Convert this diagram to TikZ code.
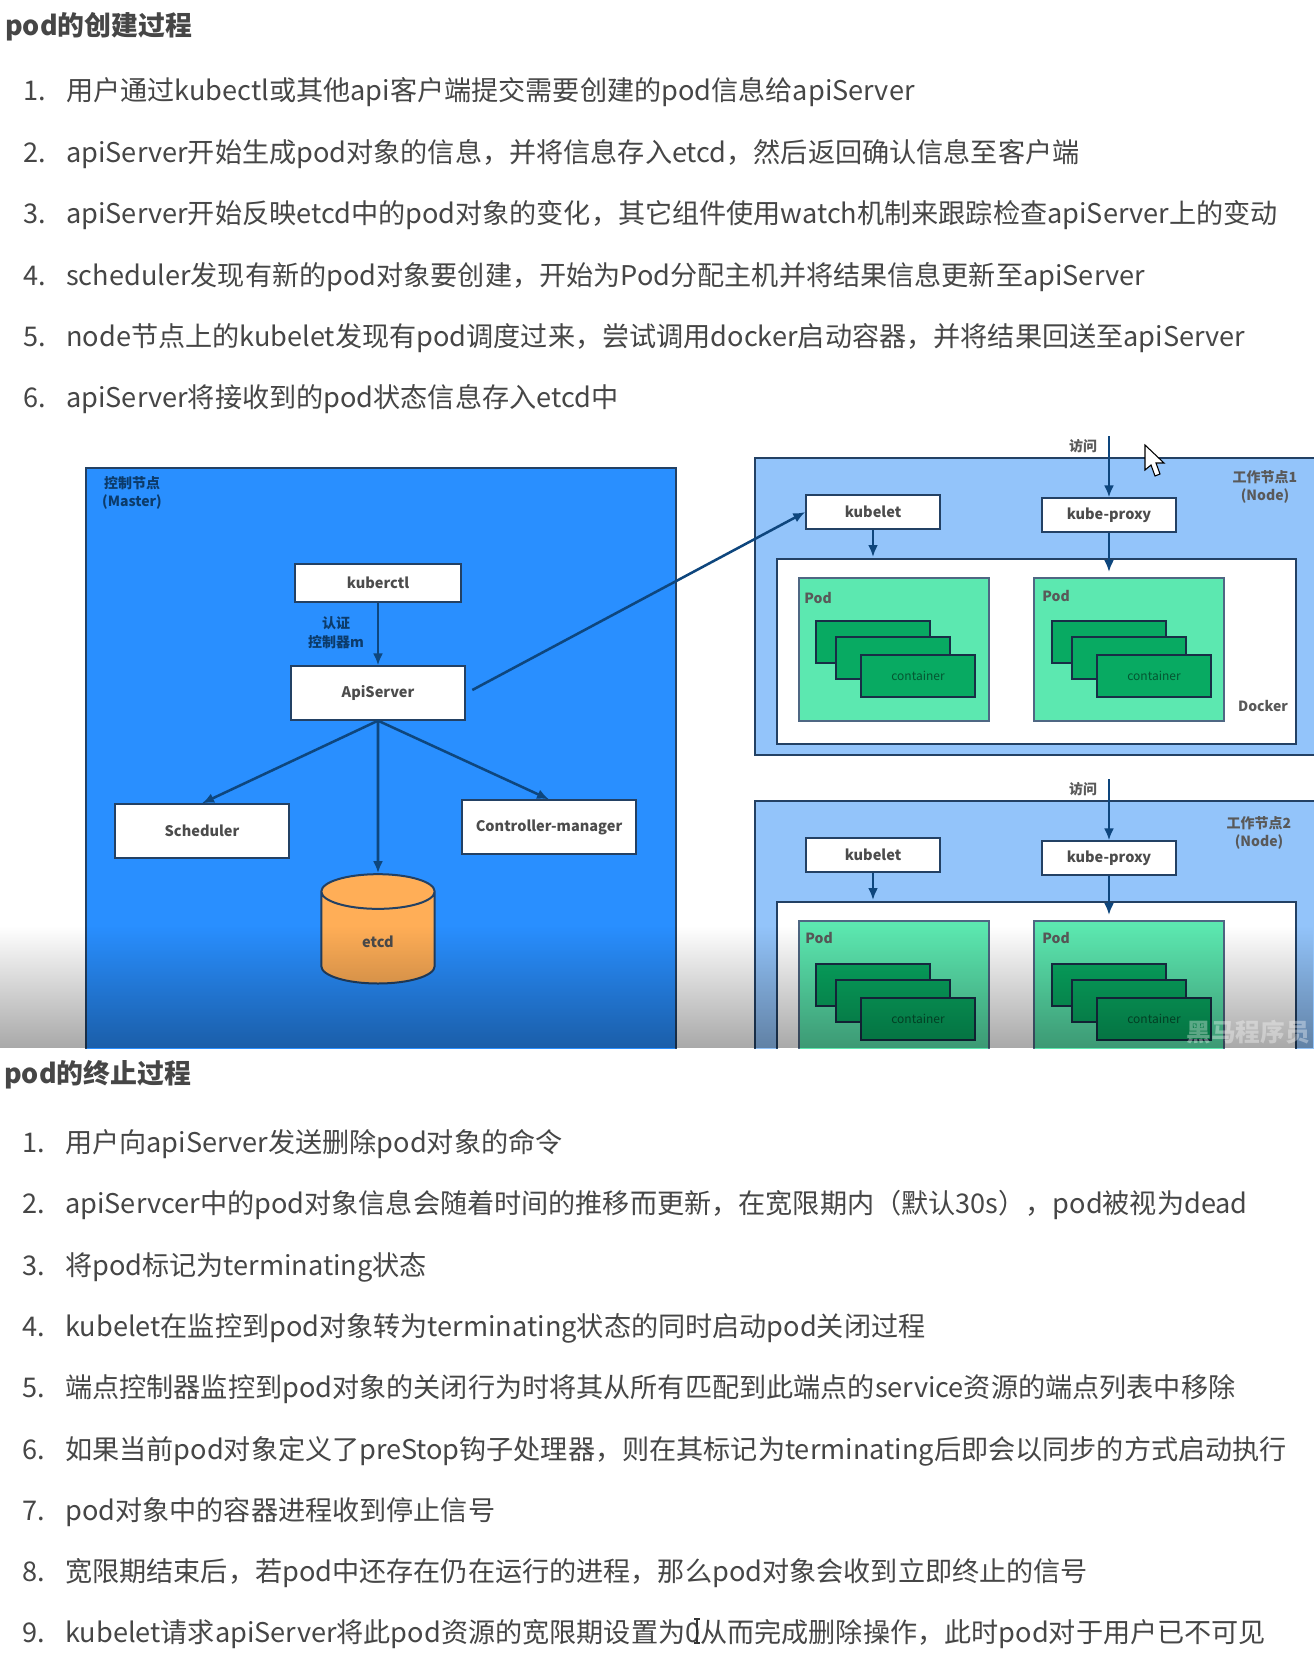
\documentclass[tikz,border=0pt]{standalone}
\usepackage{fontspec}
\usepackage{xcolor}
\usepackage{tikz}
\usetikzlibrary{positioning,shapes.geometric,fadings,arrows.meta}
\setmainfont{Noto Sans CJK SC}
\definecolor{myblue}{RGB}{41,143,255}
\definecolor{mylight}{RGB}{147,196,250}
\definecolor{mypod}{RGB}{92,232,176}
\definecolor{mycont}{RGB}{8,170,98}
\definecolor{myorange}{RGB}{255,174,87}
\definecolor{myline}{RGB}{35,65,100}
\definecolor{myarrow}{RGB}{14,70,125}
\definecolor{mytext}{RGB}{70,70,70}
\newcommand{\numbered}[1]{\makebox[32.25pt][l]{#1.}}
\tikzfading[name=videoshade, top color=transparent!100, bottom color=transparent!66]
\tikzset{
  heading/.style={anchor=west, inner sep=0pt, text=mytext, font=\fontsize{20.15}{24}\selectfont\bfseries},
  item/.style={anchor=west, inner sep=0pt, text=mytext, font=\fontsize{20.35}{24}\selectfont},
  whitebox/.style={draw=myline, fill=white, line width=1.5pt, inner sep=0pt, font=\fontsize{10.9}{13}\selectfont\bfseries, text=black!70},
  tag/.style={inner sep=0pt, align=center, text=black!65, font=\fontsize{10.5}{14}\selectfont\bfseries},
  darktag/.style={tag, text=myarrow!85!black},
  podbox/.style={draw=myline!80, fill=mypod, line width=1.5pt, inner sep=0pt, minimum width=143pt, minimum height=107pt},
  contbox/.style={draw=myline!70!black, fill=mycont, line width=1.5pt, inner sep=0pt, minimum width=86pt, minimum height=31pt, font=\fontsize{9}{11}\selectfont, text=black!50!mycont},
  kubebox/.style={whitebox, minimum width=100pt, minimum height=25pt},
  link/.style={draw=myarrow, line width=1.9pt, -{Latex[length=9pt,width=7.5pt]}}
}
\begin{document}
\begin{tikzpicture}[x=0.75pt, y=-0.75pt]
    \useasboundingbox (0,0) rectangle (1314,1661);
    \fill[white] (0,0) rectangle (1314,1661);

    \node[heading] (Head1) at (5,27) {pod的创建过程};
    \node[item] (A1) at (23,92) {\numbered{1}用户通过kubectl或其他api客户端提交需要创建的pod信息给apiServer};
    \node[item] (A2) at (23,154) {\numbered{2}apiServer开始生成pod对象的信息，并将信息存入etcd，然后返回确认信息至客户端};
    \node[item] (A3) at (23,215) {\numbered{3}apiServer开始反映etcd中的pod对象的变化，其它组件使用watch机制来跟踪检查apiServer上的变动};
    \node[item] (A4) at (23,277) {\numbered{4}scheduler发现有新的pod对象要创建，开始为Pod分配主机并将结果信息更新至apiServer};
    \node[item] (A5) at (23,338) {\numbered{5}node节点上的kubelet发现有pod调度过来，尝试调用docker启动容器，并将结果回送至apiServer};
    \node[item] (A6) at (23,399) {\numbered{6}apiServer将接收到的pod状态信息存入etcd中};

    \begin{scope}
    \clip (0,0) rectangle (1314,1048);
    % master
    \draw[myline, fill=myblue, line width=1.6pt] (86,468) rectangle (676,1070);
    \node[darktag] (MasterTag) at (132,493) {控制节点\\(Master)};
    \node[whitebox, minimum width=124pt, minimum height=28pt] (Kuberctl) at (378,583) {kuberctl};
    \node[whitebox, minimum width=131pt, minimum height=40pt] (ApiServer) at (378,693) {ApiServer};
    \node[whitebox, minimum width=131pt, minimum height=40pt] (Scheduler) at (202,831) {Scheduler};
    \node[whitebox, minimum width=131pt, minimum height=40pt] (Controller) at (549,827) {Controller-manager};
    \node[cylinder, shape border rotate=90, aspect=1.1, draw=myline, fill=myorange, line width=1.5pt,
      cylinder uses custom fill, cylinder body fill=myorange, cylinder end fill=myorange,
      minimum width=85pt, minimum height=82pt, inner sep=0pt, font=\fontsize{10.9}{13}\selectfont\bfseries, text=black!70] (Etcd) at (378,938) {\raisebox{-14pt}{etcd}};
    \node[darktag] (AuthTag) at (336,633) {认证\\控制器m};

    % worker 1
    \draw[myline, fill=mylight, line width=1.6pt] (755,458) rectangle (1330,755);
    \draw[myline, fill=white, line width=1.6pt] (777,559) rectangle (1296,744);
    \node[tag] (NodeTagA) at (1265,487) {工作节点1\\(Node)};
    \node[kubebox] (KubeletA) at (873,512) {kubelet};
    \node[kubebox] (ProxyA) at (1109,515) {kube-proxy};
    \node[podbox] (PodA) at (894,649.5) {};
    \node[podbox] (PodB) at (1129,649.5) {};
    \node[tag] (PodTagA) at (818,598) {Pod};
    \node[tag] (PodTagB) at (1056,596) {Pod};
    \node[contbox] (ContA) at (873,642) {};
    \node[contbox] (ContB) at (893,658) {};
    \node[contbox] (ContC) at (918,676) {container};
    \node[contbox] (ContD) at (1109,642) {};
    \node[contbox] (ContE) at (1129,658) {};
    \node[contbox] (ContF) at (1154,676) {container};
    \node[tag] (DockerTagA) at (1263,706) {Docker};
    \node[tag] (AccessA) at (1083,446) {访问};
    \coordinate (InA) at (1109,436);

    % worker 2
    \draw[myline, fill=mylight, line width=1.6pt] (755,801) rectangle (1330,1098);
    \draw[myline, fill=white, line width=1.6pt] (777,902) rectangle (1296,1087);
    \node[tag] (NodeTagB) at (1259,833) {工作节点2\\(Node)};
    \node[kubebox] (KubeletB) at (873,855) {kubelet};
    \node[kubebox] (ProxyB) at (1109,858) {kube-proxy};
    \node[podbox] (PodC) at (894,992.5) {};
    \node[podbox] (PodD) at (1129,992.5) {};
    \node[tag] (PodTagC) at (819,938) {Pod};
    \node[tag] (PodTagD) at (1056,938) {Pod};
    \node[contbox] (ContG) at (873,985) {};
    \node[contbox] (ContH) at (893,1001) {};
    \node[contbox] (ContI) at (918,1019) {container};
    \node[contbox] (ContJ) at (1109,985) {};
    \node[contbox] (ContK) at (1129,1001) {};
    \node[contbox] (ContL) at (1154,1019) {container\hspace{6pt}};
    \node[tag] (AccessB) at (1083,789) {访问};
    \coordinate (InB) at (1109,779);

    \draw[link] (Kuberctl) -- (ApiServer);
    \draw[link] (ApiServer.south) -- (Scheduler.north);
    \draw[link] (ApiServer.south) -- (Etcd.north);
    \draw[link] (ApiServer.south) -- (Controller.north);
    \draw[link] ([shift={(6,-3)}]ApiServer.east) -- (KubeletA.west);
    \draw[link] (InA) -- (ProxyA);
    \draw[link] (KubeletA) -- (KubeletA |- 0,557);
    \draw[link] (ProxyA) -- (ProxyA |- 0,572);
    \draw[link] (InB) -- (ProxyB);
    \draw[link] (KubeletB) -- (KubeletB |- 0,900);
    \draw[link] (ProxyB) -- (ProxyB |- 0,915);

    % pointer
    \draw[black, fill=white, line width=0.8pt] (1145,445) -- (1145,470) -- (1151,465) -- (1155,476) -- (1160,474) -- (1156,463) -- (1164,463) -- cycle;

    % shade
    \fill[black, path fading=videoshade] (0,926) rectangle (1314,1048);
    \node[text=white, opacity=0.35, inner sep=0pt, font=\fontsize{18.5}{20}\selectfont\bfseries] (Mark) at (1248,1032) {黑马程序员};
    \end{scope}

    \node[heading] (Head2) at (4,1075) {pod的终止过程};
    \node[item] (B1) at (22,1144) {\numbered{1}用户向apiServer发送删除pod对象的命令};
    \node[item] (B2) at (22,1205) {\numbered{2}apiServcer中的pod对象信息会随着时间的推移而更新，在宽限期内（默认30s），pod被视为dead};
    \node[item] (B3) at (22,1267) {\numbered{3}将pod标记为terminating状态};
    \node[item] (B4) at (22,1328) {\numbered{4}kubelet在监控到pod对象转为terminating状态的同时启动pod关闭过程};
    \node[item] (B5) at (22,1389) {\numbered{5}端点控制器监控到pod对象的关闭行为时将其从所有匹配到此端点的service资源的端点列表中移除};
    \node[item] (B6) at (22,1451) {\numbered{6}如果当前pod对象定义了preStop钩子处理器，则在其标记为terminating后即会以同步的方式启动执行};
    \node[item] (B7) at (22,1512) {\numbered{7}pod对象中的容器进程收到停止信号};
    \node[item] (B8) at (22,1573) {\numbered{8}宽限期结束后，若pod中还存在仍在运行的进程，那么pod对象会收到立即终止的信号};
    \node[item] (B9) at (22,1634) {\numbered{9}kubelet请求apiServer将此pod资源的宽限期设置为0从而完成删除操作，此时pod对于用户已不可见};

    % text cursor
    \draw[black!80, line width=0.8pt] (694,1619) -- (700,1619) (697,1619) -- (697,1643) (694,1643) -- (700,1643);
\end{tikzpicture}
\end{document}
